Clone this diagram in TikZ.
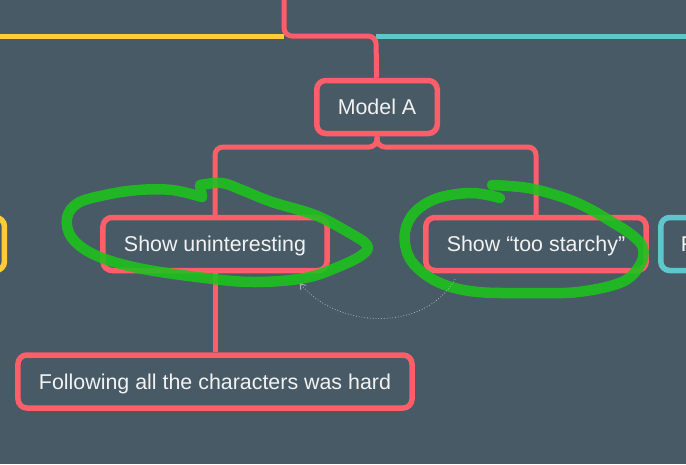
\documentclass[tikz,border=0pt]{standalone}
\usepackage{fontspec}
\setmainfont{Liberation Sans}
\usepackage{tikz}
\usetikzlibrary{positioning}
\usetikzlibrary{arrows.meta}
\definecolor{slate}{HTML}{475A66}
\definecolor{coral}{HTML}{FD5E69}
\definecolor{sun}{HTML}{FECC38}
\definecolor{aqua}{HTML}{5FC6CC}
\definecolor{marker}{HTML}{1CC41C}
\definecolor{pale}{HTML}{F2F2F2}

\begin{document}
\begin{tikzpicture}[x=1pt, y=-1pt,
    every node/.style={rectangle, rounded corners=9pt, line width=5.5pt, inner xsep=21pt, minimum height=53pt, text height=15.3pt, text depth=0pt, text=pale, font=\fontsize{21.4}{25}\selectfont},
    topic/.style={draw=coral},
    branch/.style={line width=5pt, rounded corners=8pt},
    scribble/.style={draw=marker, opacity=0.88, line width=10.5pt, line cap=round, line join=round}]

    \fill[slate] (0,0) rectangle (686,464);
    \useasboundingbox (0,0) rectangle (686,464);

    \node[topic] (modela) at (377,107) {Model A};
    \node[topic] (uninteresting) at (215,244) {Show uninteresting};
    \node[topic] (starchy) at (536,244) {Show “too starchy”};
    \node[topic, below=79pt of uninteresting] (characters) {Following all the characters was hard};

    \node[draw=sun, left=93pt of uninteresting, minimum width=130pt] (leftbox) {};
    \node[draw=aqua, anchor=west, inner xsep=20pt] (rightbox) at (658,244) {F};

    \coordinate (root) at (284,-5);
    \coordinate (split) at (376,36);
    \coordinate (sunend) at (-8,36);
    \coordinate (aquaend) at (694,36);

    \draw[branch, sun] (root |- split) -- (sunend);
    \draw[branch, aqua] (split) -- (aquaend);
    \draw[branch, coral] (root) |- (split) -- (modela);

    \draw[branch, coral] (modela) -- ++(0,40) -| (uninteresting);
    \draw[branch, coral] (modela) -- ++(0,40) -| (starchy);
    \draw[branch, coral] (uninteresting) -- (characters);

    \draw[scribble] plot[smooth, tension=0.6] coordinates {(200,185) (222,183) (242,190) (272,202) (315,215) (348,232) (367,245) (362,255) (338,267) (305,278) (255,282) (205,278) (138,268) (95,255) (72,238) (67,218) (78,203) (105,195) (138,190) (172,190) (202,197)} -- (200,185);
    \draw[scribble] plot[smooth, tension=0.6] coordinates {(492,185) (528,188) (562,197) (588,208) (612,222) (632,235) (643,248) (640,265) (622,282) (578,292) (528,293) (478,292) (445,285) (422,272) (408,255) (405,232) (415,212) (438,198) (472,193) (500,198)};

    \draw[gray!60, line width=0.8pt, dotted, -{Straight Barb[length=5pt, width=7pt]}] ([xshift=32pt, yshift=-6pt]starchy.south west) to[out=-120, in=-50] ([xshift=-30pt, yshift=-10pt]uninteresting.south east);
\end{tikzpicture}
\end{document}
